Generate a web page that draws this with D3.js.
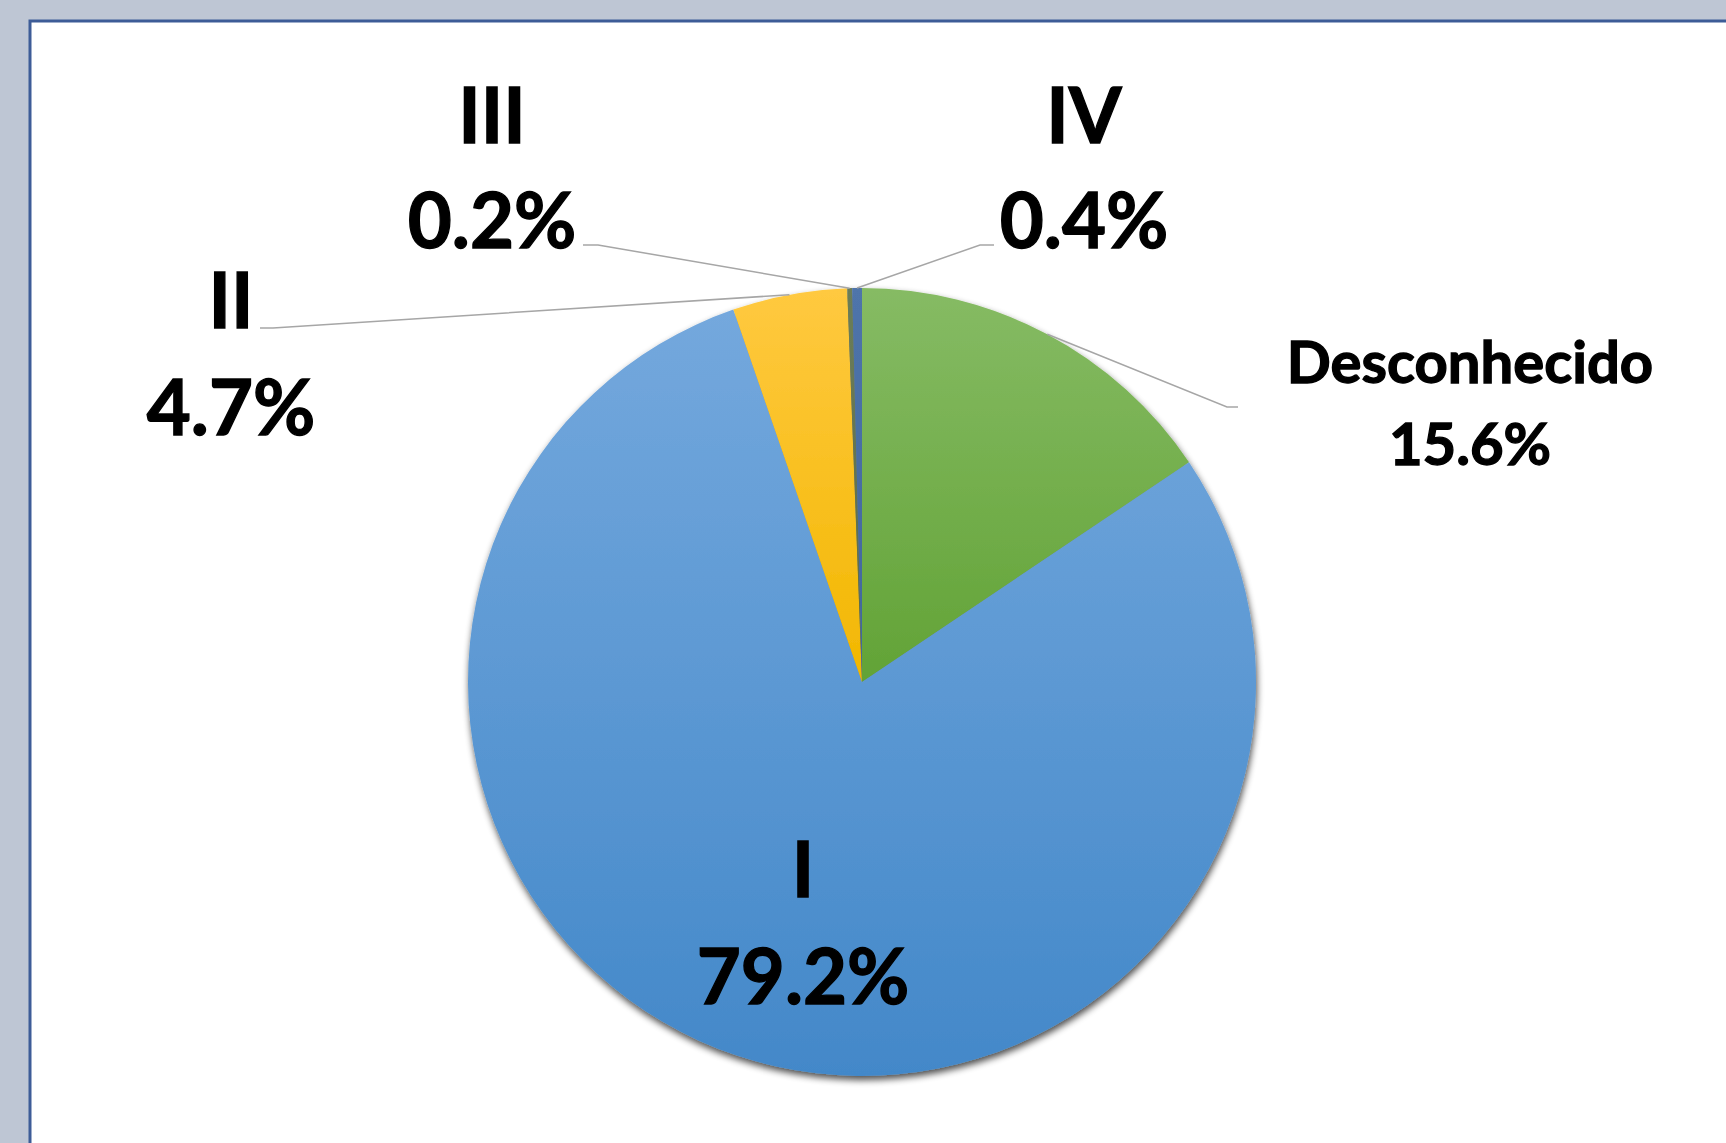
<!DOCTYPE html>
<html>
<head>
<meta charset="utf-8">
<script src="https://cdn.jsdelivr.net/npm/d3@7"></script>
<style>
  body { margin: 0; background: #bec6d4; }
  .lbl { font-family: Lato, "Open Sans", sans-serif; font-weight: 700; fill: #000; stroke: #000; stroke-width: 1.3px; }
</style>
</head>
<body>
<div id="main"></div>
<script>

// data
var categories = ["Desconhecido", "I", "II", "III", "IV"];
var shares = [15.6, 79.2, 4.7, 0.2, 0.4];

// colours, top and bottom of each slice gradient
var colTop = ["#86bb64", "#74a8dd", "#ffc940", "#6c7d58", "#4f74aa"];
var colBot = ["#62a336", "#4388c9", "#f2b700", "#5a6a46", "#40669c"];

var W = 1726, H = 1143;
var cx = 862, cy = 682, R = 394;

// label placement relative to the pie centre (label centre x, first baseline y, leader elbow, leader end)
var labelLayout = {
  "Desconhecido": {x: 608, y: -299, gap: 82, size: 58, elbow: [365, -275], end: [376, -275]},
  "I":   {x: -59, y: 215, gap: 107, size: 76},
  "II":  {x: -631, y: -354, gap: 107, size: 76, elbow: [-589, -354], end: [-602, -354]},
  "III": {x: -370, y: -539, gap: 105, size: 76, elbow: [-264, -437], end: [-279, -437]},
  "IV":  {x: 222, y: -539, gap: 105, size: 76, elbow: [118, -437], end: [132, -437]}
};

var data = categories.map((c, i) => ({name: c, value: shares[i], i: i}));

var svg = d3.select('#main')
  .append('svg')
  .attr("width", W)
  .attr("height", H);

var defs = svg.append('defs');

var shadow = defs.append('filter')
  .attr('id', 'shadow')
  .attr('x', '-10%').attr('y', '-10%')
  .attr('width', '120%').attr('height', '120%');
shadow.append('feGaussianBlur').attr('in', 'SourceAlpha').attr('stdDeviation', 3.5);
shadow.append('feOffset').attr('dx', 1).attr('dy', 4).attr('result', 'off');
shadow.append('feComponentTransfer').append('feFuncA').attr('type', 'linear').attr('slope', 0.7);
var merge = shadow.append('feMerge');
merge.append('feMergeNode');
merge.append('feMergeNode').attr('in', 'SourceGraphic');

data.forEach(d => {
  var g = defs.append('linearGradient')
    .attr('id', 'grad' + d.i)
    .attr('x1', 0).attr('y1', 0).attr('x2', 0).attr('y2', 1);
  g.append('stop').attr('offset', '0%').attr('stop-color', colTop[d.i]);
  g.append('stop').attr('offset', '100%').attr('stop-color', colBot[d.i]);
});

// white panel with blue frame
svg.append('rect')
  .attr('x', 30)
  .attr('y', 21)
  .attr('width', W + 50)
  .attr('height', H + 50)
  .style('fill', '#fff')
  .style('stroke', '#3d5c97')
  .style('stroke-width', 3);

var pie = d3.pie()
  .sort(null)
  .value(d => d.value);

var arc = d3.arc()
  .innerRadius(0)
  .outerRadius(R);

var arcs = pie(data);

var pieG = svg.append('g')
  .attr('transform', 'translate(' + cx + ',' + cy + ')');

pieG.append('g')
  .attr('filter', 'url(#shadow)')
  .selectAll('path')
  .data(arcs)
  .enter()
  .append('path')
  .attr('d', arc)
  .style('fill', d => 'url(#grad' + d.data.i + ')');

// leader lines from the middle of the slice's outer edge
pieG.selectAll('polyline')
  .data(arcs.filter(d => labelLayout[d.data.name].elbow))
  .enter()
  .append('polyline')
  .attr('points', d => {
    var a = (d.startAngle + d.endAngle) / 2;
    var L = labelLayout[d.data.name];
    var p = [Math.sin(a) * R, -Math.cos(a) * R];
    return [p, L.elbow, L.end].map(q => q.join(',')).join(' ');
  })
  .style('fill', 'none')
  .style('stroke', '#a6a6a6')
  .style('stroke-width', 1.5);

var fmt = d3.format('.1f');

var lbl = pieG.selectAll('g.label')
  .data(arcs)
  .enter()
  .append('g')
  .attr('class', 'label');

lbl.append('text')
  .attr('class', 'lbl')
  .attr('text-anchor', 'middle')
  .attr('x', d => labelLayout[d.data.name].x)
  .attr('y', d => labelLayout[d.data.name].y)
  .style('font-size', d => labelLayout[d.data.name].size + 'px')
  .text(d => d.data.name);

lbl.append('text')
  .attr('class', 'lbl')
  .attr('text-anchor', 'middle')
  .attr('x', d => labelLayout[d.data.name].x)
  .attr('y', d => labelLayout[d.data.name].y + labelLayout[d.data.name].gap)
  .style('font-size', d => labelLayout[d.data.name].size + 'px')
  .text(d => fmt(d.data.value) + '%');

</script>
</body>
</html>
